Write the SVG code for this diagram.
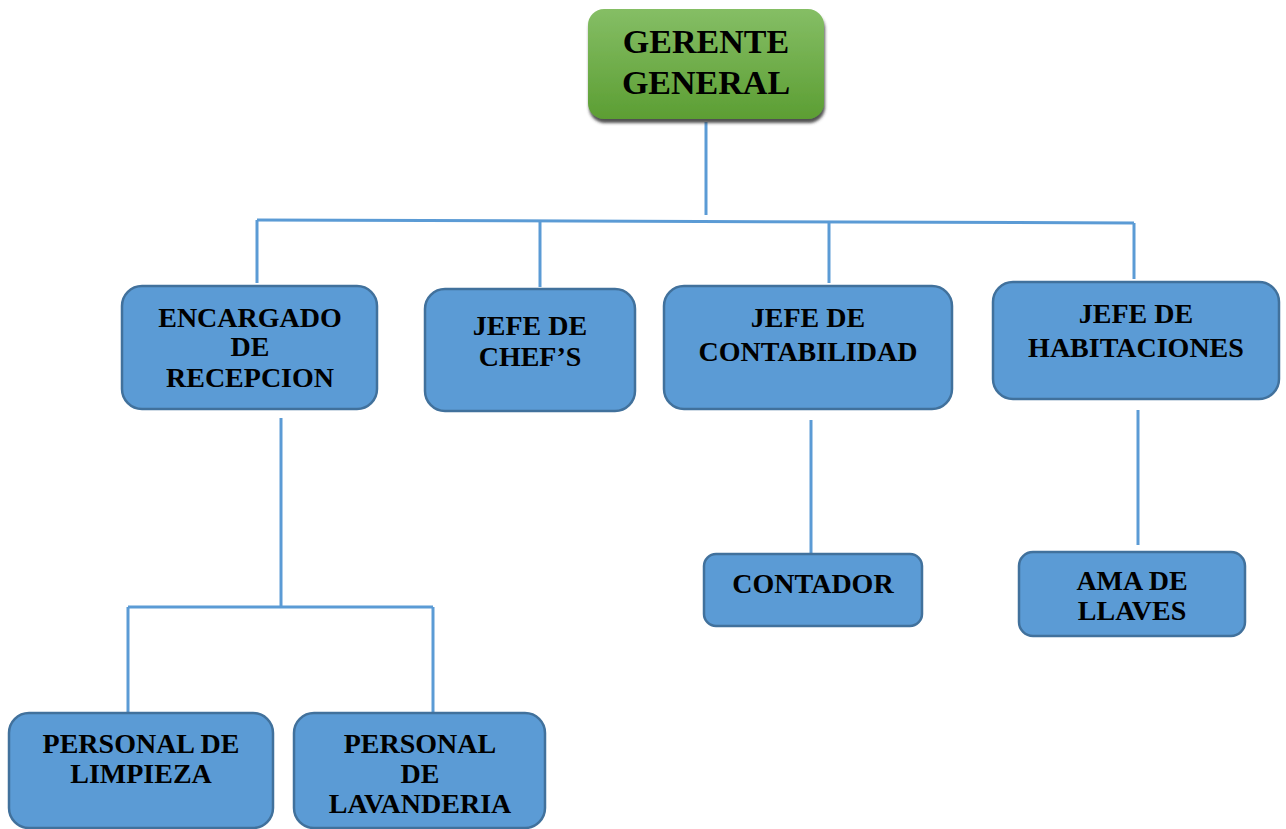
<svg xmlns="http://www.w3.org/2000/svg" width="1286" height="829" viewBox="0 0 1286 829">
<defs>
<linearGradient id="gg" x1="0" y1="0" x2="0" y2="1">
<stop offset="0" stop-color="#85BE65"/>
<stop offset="1" stop-color="#5C9E33"/>
</linearGradient>
<filter id="sh" x="-10%" y="-10%" width="120%" height="130%">
<feGaussianBlur in="SourceAlpha" stdDeviation="1.5"/>
<feOffset dx="1" dy="4" result="o"/>
<feFlood flood-color="#333333" flood-opacity="0.85"/>
<feComposite in2="o" operator="in"/>
<feMerge><feMergeNode/><feMergeNode in="SourceGraphic"/></feMerge>
</filter>
</defs>
<style>
.box{fill:#5B9BD5;stroke:#41719C;stroke-width:2.5}
.t{font-family:"Liberation Serif","Times New Roman",serif;font-weight:bold;font-size:28px;fill:#000;text-anchor:middle}
.tg{font-size:34px}
.ln{stroke:#5B9BD5;stroke-width:3;fill:none}
</style>
<rect width="1286" height="829" fill="#ffffff"/>
<g id="connectors">
<line class="ln" x1="706" y1="122" x2="706" y2="215"/>
<line class="ln" x1="257" y1="220" x2="1134" y2="223"/>
<line class="ln" x1="257" y1="220" x2="257" y2="283"/>
<line class="ln" x1="540" y1="221" x2="540" y2="287"/>
<line class="ln" x1="829" y1="222" x2="829" y2="283"/>
<line class="ln" x1="1134" y1="223" x2="1134" y2="279"/>
<line class="ln" x1="281" y1="418" x2="281" y2="607"/>
<line class="ln" x1="128" y1="607" x2="433" y2="607"/>
<line class="ln" x1="128" y1="607" x2="128" y2="712"/>
<line class="ln" x1="433" y1="607" x2="433" y2="712"/>
<line class="ln" x1="811" y1="420" x2="811" y2="553"/>
<line class="ln" x1="1138" y1="410" x2="1138" y2="545"/>
</g>
<g id="gerente">
<rect x="588" y="9" width="236" height="110" rx="16" fill="url(#gg)" filter="url(#sh)"/>
<text class="t tg" x="706" y="53">GERENTE</text>
<text class="t tg" x="706" y="94">GENERAL</text>
</g>
<g id="encargado">
<rect class="box" x="122" y="286" width="255" height="123" rx="20"/>
<text class="t" x="250" y="327">ENCARGADO</text>
<text class="t" x="250" y="356">DE</text>
<text class="t" x="250" y="387">RECEPCION</text>
</g>
<g id="chefs">
<rect class="box" x="425" y="289" width="210" height="122" rx="20"/>
<text class="t" x="530" y="335">JEFE DE</text>
<text class="t" x="530" y="366">CHEF’S</text>
</g>
<g id="contabilidad">
<rect class="box" x="664" y="286" width="288" height="123" rx="20"/>
<text class="t" x="808" y="327">JEFE DE</text>
<text class="t" x="808" y="361">CONTABILIDAD</text>
</g>
<g id="habitaciones">
<rect class="box" x="993" y="282" width="286" height="117" rx="20"/>
<text class="t" x="1136" y="323">JEFE DE</text>
<text class="t" x="1136" y="357">HABITACIONES</text>
</g>
<g id="contador">
<rect class="box" x="704" y="554" width="218" height="72" rx="12"/>
<text class="t" x="813" y="593">CONTADOR</text>
</g>
<g id="ama">
<rect class="box" x="1019" y="552" width="226" height="84" rx="14"/>
<text class="t" x="1132" y="590">AMA DE</text>
<text class="t" x="1132" y="620">LLAVES</text>
</g>
<g id="limpieza">
<rect class="box" x="9" y="713" width="264" height="115" rx="20"/>
<text class="t" x="141" y="753">PERSONAL DE</text>
<text class="t" x="141" y="783">LIMPIEZA</text>
</g>
<g id="lavanderia">
<rect class="box" x="294" y="713" width="251" height="115" rx="20"/>
<text class="t" x="420" y="753">PERSONAL</text>
<text class="t" x="420" y="783">DE</text>
<text class="t" x="420" y="813">LAVANDERIA</text>
</g>
</svg>
